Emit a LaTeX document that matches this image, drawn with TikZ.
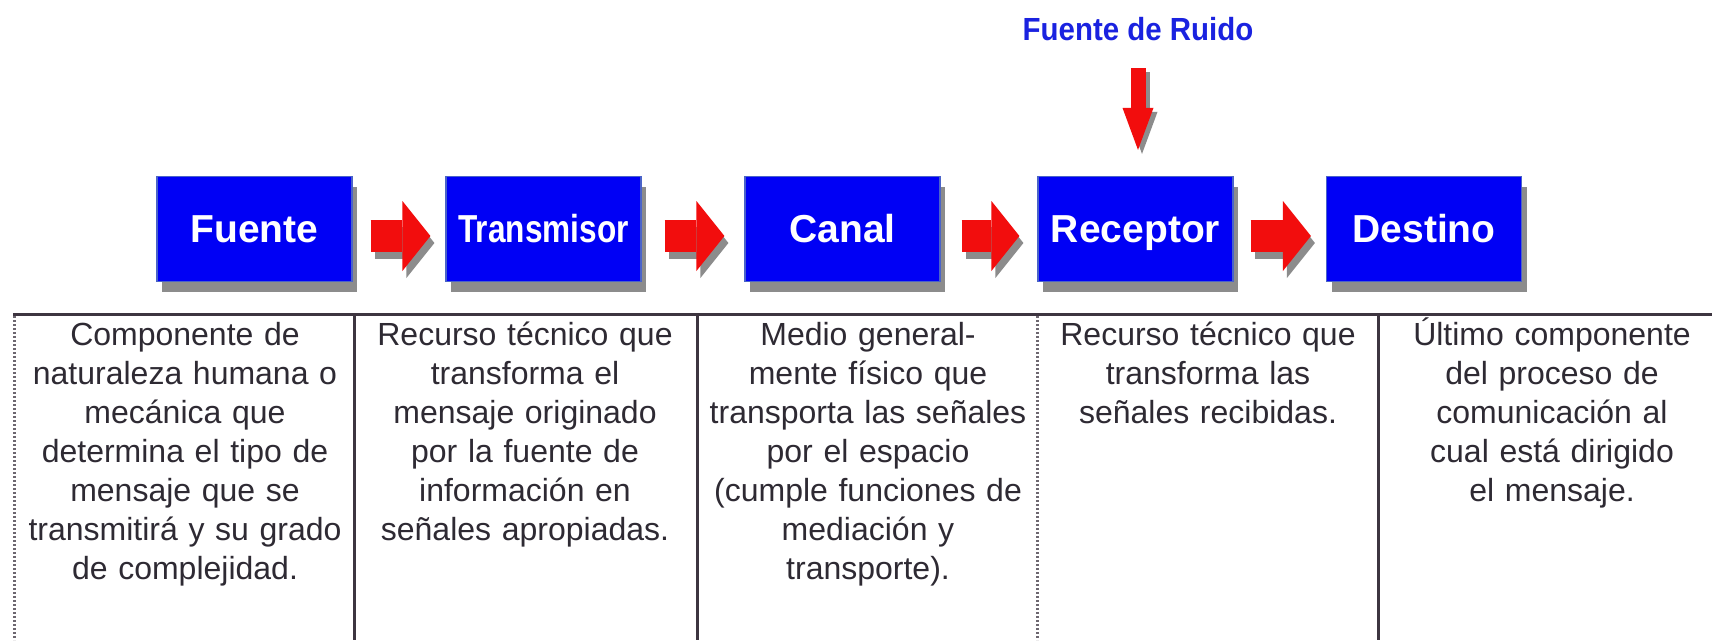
\documentclass[tikz,border=0pt]{standalone}
\usepackage{fontspec}
\setmainfont{Liberation Sans}
\newfontfamily\ruidofont[FakeStretch=0.92]{Liberation Sans}
\newfontfamily\estrecha[FakeStretch=0.81]{Liberation Sans}
\usetikzlibrary{arrows.meta,shadows,calc}
\definecolor{azul}{HTML}{0000F5}
\definecolor{azulborde}{HTML}{4A63C9}
\definecolor{rojo}{HTML}{F20D0D}
\definecolor{sombra}{HTML}{8C8C8C}
\definecolor{tinta}{HTML}{2E2A33}
\definecolor{linea}{HTML}{3D3540}
\definecolor{ruidoazul}{HTML}{1A22E0}
\tikzset{
  caja/.style={rectangle, fill=azul, draw=azulborde, line width=1.2pt, minimum width=195pt,
               minimum height=105pt, inner sep=0pt, text=white, text height=30pt, text depth=4pt,
               font=\fontsize{39}{47}\selectfont\bfseries,
               drop shadow={shadow xshift=5pt, shadow yshift=-10pt, fill=sombra, opacity=1}},
  desc/.style={text width=330pt, align=center, inner sep=0pt, anchor=north, text=tinta,
               font=\fontsize{32}{39}\selectfont},
  ruido/.style={anchor=base, inner sep=0pt, text=ruidoazul, font=\fontsize{32}{40}\selectfont\ruidofont\bfseries},
  flecha/.style={draw=rojo, line width=32pt, -{Triangle[length=28pt, width=70pt, line width=0pt]}},
  flechasombra/.style={flecha, draw=sombra, transform canvas={xshift=4pt, yshift=-7pt}},
  bajada/.style={draw=rojo, line width=15pt, -{Triangle[length=42pt, width=31pt, line width=0pt]}},
  bajadasombra/.style={bajada, draw=sombra, transform canvas={xshift=4pt, yshift=-4pt}},
  tabla/.style={draw=linea, line width=3pt},
  tablapunto/.style={draw=linea!75, line width=3pt, dash pattern=on 2pt off 2pt}
}
\begin{document}
\begin{tikzpicture}[x=1pt, y=-1pt]
 \useasboundingbox[fill=white] (0,0) rectangle (1712,640);
 \node[caja] (fuente) at (254.5,229) {Fuente};
 \node[caja] (trans) at (543.5,229) {\estrecha\bfseries Transmisor};
 \node[caja] (canal) at (842.5,229) {Canal};
 \node[caja] (receptor) at (1135.5,229) {Receptor};
 \node[caja] (destino) at (1424,229) {Destino};
 \node[ruido] (ruido) at (1138,40) {Fuente de Ruido};
 \draw[flechasombra, shorten <=18pt, shorten >=15pt] ([yshift=-7pt]fuente.east) -- ([yshift=-7pt]trans.west);
 \draw[flecha, shorten <=18pt, shorten >=15pt] ([yshift=-7pt]fuente.east) -- ([yshift=-7pt]trans.west);
 \draw[flechasombra, shorten <=23pt, shorten >=20pt] ([yshift=-7pt]trans.east) -- ([yshift=-7pt]canal.west);
 \draw[flecha, shorten <=23pt, shorten >=20pt] ([yshift=-7pt]trans.east) -- ([yshift=-7pt]canal.west);
 \draw[flechasombra, shorten <=21pt, shorten >=18pt] ([yshift=-7pt]canal.east) -- ([yshift=-7pt]receptor.west);
 \draw[flecha, shorten <=21pt, shorten >=18pt] ([yshift=-7pt]canal.east) -- ([yshift=-7pt]receptor.west);
 \draw[flechasombra, shorten <=17pt, shorten >=15pt] ([yshift=-7pt]receptor.east) -- ([yshift=-7pt]destino.west);
 \draw[flecha, shorten <=17pt, shorten >=15pt] ([yshift=-7pt]receptor.east) -- ([yshift=-7pt]destino.west);
 \draw[bajadasombra, shorten >=26pt] ([yshift=-28pt]ruido.base) -- (ruido.base |- receptor.north);
 \draw[bajada, shorten >=26pt] ([yshift=-28pt]ruido.base) -- (ruido.base |- receptor.north);
 \draw[tabla] (13,314.5) -- (1712,314.5);
 \foreach \x in {354,697,1378} \draw[tabla] (\x,314) -- (\x,640);
 \foreach \x in {14,1037} \draw[tablapunto] (\x,316) -- (\x,640);
 \node[desc] (t1) at (185,318) {\strut Componente de\\naturaleza humana o\\mecánica que\\determina el tipo de\\mensaje que se\\transmitirá y su grado\\de complejidad.};
 \node[desc] (t2) at (525,318) {\strut Recurso técnico que\\transforma el\\mensaje originado\\por la fuente de\\información en\\señales apropiadas.};
 \node[desc] (t3) at (868,318) {\strut Medio general-\\mente físico que\\transporta las señales\\por el espacio\\(cumple funciones de\\mediación y\\transporte).};
 \node[desc] (t4) at (1208,318) {\strut Recurso técnico que\\transforma las\\señales recibidas.};
 \node[desc] (t5) at (1552,318) {\strut Último componente\\del proceso de\\comunicación al\\cual está dirigido\\el mensaje.};
\end{tikzpicture}
\end{document}
